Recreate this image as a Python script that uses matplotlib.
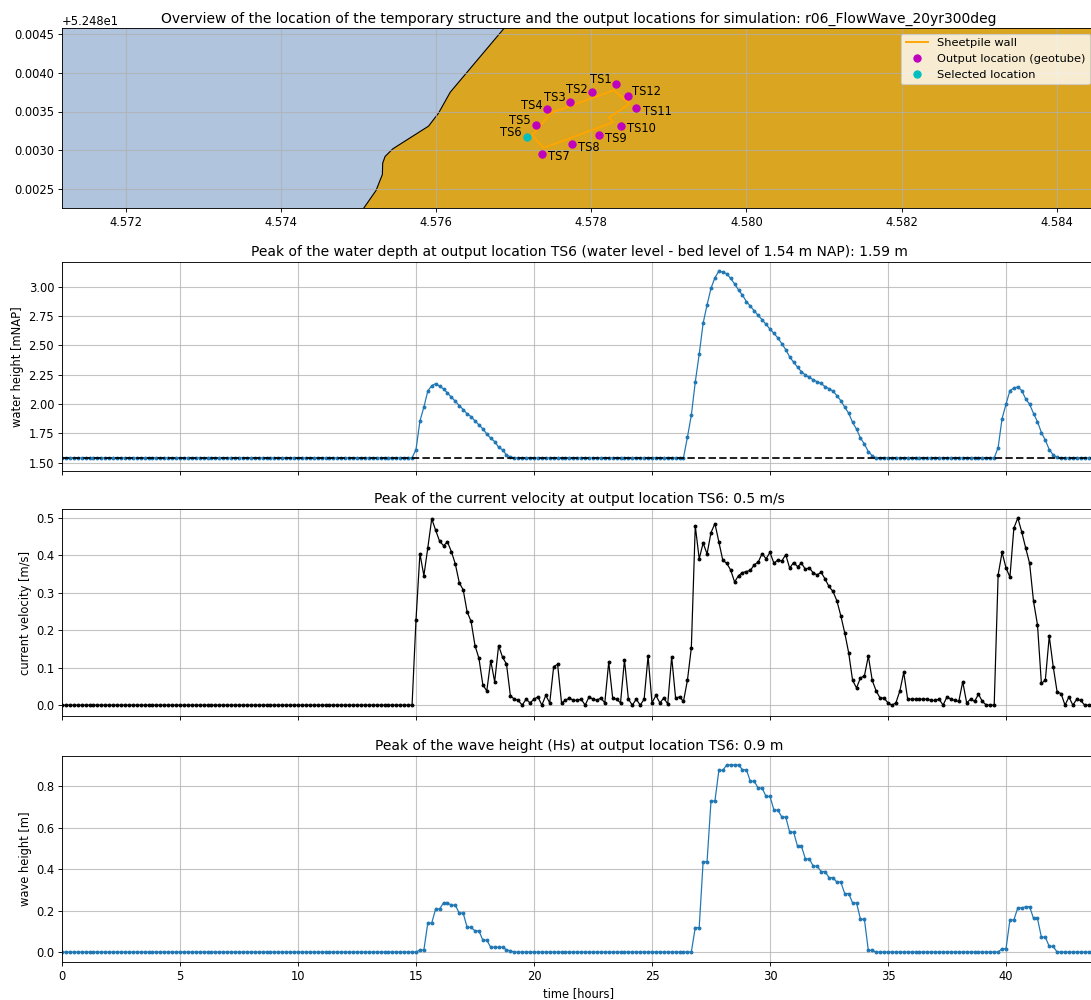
import numpy as np
import matplotlib
matplotlib.use("Agg")
import matplotlib.pyplot as plt
from matplotlib.patches import Polygon

W, H, DPI = 1091, 1000, 80
LAT0 = 52.48
BED = 1.54
DT = 1 / 6

plt.rcParams['font.size'] = 10.4
plt.rcParams['axes.titlesize'] = 12.5
plt.rcParams['axes.labelsize'] = 10.4
plt.rcParams['xtick.labelsize'] = 10.4
plt.rcParams['ytick.labelsize'] = 10.4
plt.rcParams['legend.fontsize'] = 10.2

coast_lon = [4.575017, 4.575069, 4.575224, 4.575306, 4.575310, 4.575341, 4.57544, 4.575901, 4.57603, 4.576181, 4.576862, 4.576935]
coast_lat = [0.00218, 0.002258, 0.002481, 0.002687, 0.002834, 0.00292, 0.003018, 0.003311, 0.003479, 0.003749, 0.004558, 0.004644]
wall_lon = [4.577237, 4.577388, 4.578284, 4.578228, 4.578491, 4.578293, 4.577474, 4.577237]
wall_lat = [0.00319, 0.003031, 0.003362, 0.003423, 0.003599, 0.003775, 0.003479, 0.00319]
ts_names = ['TS1', 'TS2', 'TS3', 'TS4', 'TS5', 'TS6', 'TS7', 'TS8', 'TS9', 'TS10', 'TS11', 'TS12']
ts_lon = [4.578323, 4.578013, 4.577724, 4.577427, 4.577289, 4.577172, 4.577362, 4.577754, 4.578099, 4.578388, 4.578582, 4.578478]
ts_lat = [0.003857, 0.003754, 0.003629, 0.003526, 0.003332, 0.003169, 0.002958, 0.003079, 0.003199, 0.003315, 0.003543, 0.003706]
selected = 5

water_peak1 = [1.611, 1.855, 1.972, 2.11, 2.156, 2.173, 2.15, 2.128, 2.094, 2.057, 2.023, 1.986, 1.952, 1.915, 1.892,
               1.855, 1.821, 1.787, 1.744, 1.707, 1.679, 1.631, 1.608, 1.565, 1.548]
water_peak2 = [1.715, 1.904, 2.186, 2.424, 2.689, 2.845, 2.986, 3.076, 3.133, 3.124, 3.11, 3.07, 3.023, 2.972, 2.927,
               2.873, 2.833, 2.794, 2.754, 2.718, 2.678, 2.638, 2.602, 2.562, 2.514, 2.463, 2.401, 2.356, 2.314, 2.274,
               2.246, 2.226, 2.206, 2.189, 2.175, 2.147, 2.13, 2.11, 2.071, 2.028, 1.972, 1.921, 1.842, 1.785, 1.709,
               1.658, 1.593, 1.559]
water_peak3 = [1.628, 1.875, 1.997, 2.114, 2.136, 2.145, 2.114, 2.043, 1.997, 1.918, 1.849, 1.756, 1.69, 1.611, 1.565, 1.545]
water = ([BED] * 90 + water_peak1 + [BED] * 44 + water_peak2 + [BED] * 31 + water_peak3 + [BED] * 9)

velocity_a = [0.228, 0.405, 0.346, 0.42, 0.498, 0.467, 0.438, 0.426, 0.436, 0.41, 0.377, 0.327, 0.308, 0.249, 0.224,
              0.159, 0.125, 0.054, 0.038, 0.119, 0.0625, 0.159, 0.128, 0.11, 0.025, 0.016, 0.0125, 0.0, 0.016, 0.006,
              0.016, 0.022, 0.0, 0.026, 0.006, 0.103, 0.109, 0.006, 0.013, 0.019, 0.013, 0.013, 0.016, 0.0, 0.022,
              0.016, 0.013, 0.019, 0.006, 0.115, 0.019, 0.016, 0.006, 0.121, 0.016, 0.0, 0.016, 0.0, 0.016, 0.131,
              0.006, 0.026, 0.006, 0.019, 0.003, 0.129, 0.019, 0.022, 0.01, 0.066, 0.153, 0.479]
velocity_b = [0.391, 0.433, 0.404, 0.461, 0.485, 0.436, 0.387, 0.379, 0.361, 0.329, 0.346, 0.354, 0.357, 0.36, 0.375,
              0.382, 0.405, 0.391, 0.408, 0.379, 0.388, 0.385, 0.402, 0.366, 0.381, 0.37, 0.379, 0.363, 0.367, 0.353,
              0.348, 0.355, 0.337, 0.317, 0.304, 0.279, 0.239, 0.193, 0.14, 0.066, 0.046, 0.073, 0.078, 0.131, 0.066,
              0.0375, 0.019, 0.019, 0.006, 0.0, 0.006, 0.0375, 0.0875, 0.016, 0.016, 0.016, 0.016, 0.016, 0.016, 0.0125,
              0.0125, 0.016, 0.0, 0.022, 0.016, 0.0125, 0.01, 0.0625, 0.006, 0.016, 0.01, 0.029, 0.01, 0.0, 0.0,
              0.0, 0.348, 0.408, 0.367, 0.342, 0.473, 0.5, 0.463, 0.42, 0.379, 0.277, 0.215, 0.058, 0.067, 0.184,
              0.103, 0.035, 0.031, 0.0, 0.022, 0.0, 0.016, 0.0125, 0.0, 0.0, 0.0]
velocity = [0.0] * 90 + velocity_a + velocity_b

wave_peak1 = [0.0, 0.01, 0.01, 0.14, 0.14, 0.208, 0.208, 0.237, 0.237, 0.226, 0.226, 0.187, 0.187, 0.119, 0.119,
              0.102, 0.102, 0.057, 0.057, 0.023, 0.023, 0.023, 0.023, 0.011, 0.006]
wave_peak2 = [0.118, 0.118, 0.436, 0.436, 0.728, 0.728, 0.876, 0.876, 0.902, 0.902, 0.902, 0.902, 0.879, 0.879, 0.823,
              0.823, 0.79, 0.79, 0.75, 0.75, 0.684, 0.684, 0.651, 0.651, 0.578, 0.578, 0.51, 0.51, 0.449, 0.449,
              0.414, 0.414, 0.388, 0.388, 0.359, 0.359, 0.337, 0.337, 0.282, 0.282, 0.237, 0.237, 0.158, 0.158, 0.008, 0.008]
wave_peak3 = [0.016, 0.016, 0.155, 0.155, 0.213, 0.213, 0.218, 0.219, 0.162, 0.162, 0.072, 0.072, 0.027, 0.027]
wave = [0.0] * 90 + wave_peak1 + [0.0] * 46 + wave_peak2 + [0.0] * 32 + wave_peak3 + [0.0] * 10

def axpos(left, top, right, bottom):
    return [left / W, 1 - bottom / H, (right - left) / W, (bottom - top) / H]

LEFT, RIGHT = 62, 1096
GRID = dict(color='#b0b0b0', alpha=0.75, lw=1.0)
fig = plt.figure(figsize=(W / DPI, H / DPI), dpi=DPI)

# ---- overview map
ax0 = fig.add_axes(axpos(LEFT, 28, RIGHT, 208))
ax0.set_facecolor('lightsteelblue')
lon_min = 4.572 - 64 / 77550
lon_max = lon_min + (RIGHT - LEFT) / 77550
land = list(zip(coast_lon, np.array(coast_lat) + LAT0)) + [(4.59, LAT0 + 0.0047), (4.59, LAT0 + 0.0021)]
ax0.add_patch(Polygon(land, closed=True, facecolor='goldenrod', edgecolor='black', lw=1.0))
ax0.plot(wall_lon, np.array(wall_lat) + LAT0, color='orange', lw=1.7, label='Sheetpile wall')
sel_lon = [ts_lon[selected]]
sel_lat = [ts_lat[selected] + LAT0]
others = [i for i in range(len(ts_names)) if i != selected]
ax0.plot([ts_lon[i] for i in others], [ts_lat[i] + LAT0 for i in others], 'o', color='m', ms=6.5,
         ls='none', label='Output location (geotube)')
ax0.plot(sel_lon, sel_lat, 'o', color='c', ms=6.5, ls='none', label='Selected location')
offsets = [(-4, 4, 'right'), (-4, 2.5, 'right'), (-4, 4, 'right'), (-4, 3.5, 'right'), (-5, 4, 'right'), (-5, 4, 'right'),
           (6, -3, 'left'), (5, -3, 'left'), (5, -3, 'left'), (5, -2.5, 'left'), (6, -3, 'left'), (3.5, 3.5, 'left')]
for name, x, y, (dx, dy, ha) in zip(ts_names, ts_lon, ts_lat, offsets):
    ax0.annotate(name, (x, y + LAT0), xytext=(dx, dy), textcoords='offset points', ha=ha, va='center')
ax0.set_xlim(lon_min, lon_max)
ax0.set_ylim(LAT0 + 0.0025 - 19 / 77500, LAT0 + 0.0045 + 6 / 77500)
ax0.grid(True, **GRID)
ax0.legend(loc='upper right')
ax0.set_title('Overview of the location of the temporary structure and the output locations '
              'for simulation: r06_FlowWave_20yr300deg', pad=5)

# ---- time series
t = np.arange(len(water)) * DT
xmax = (RIGHT - LEFT) / 23.6

ax1 = fig.add_axes(axpos(LEFT, 262, RIGHT, 471))
ax1.plot(t, water, '.-', color='tab:blue', lw=1.1, ms=5)
ax1.plot([0, xmax], [BED, BED], '--', color='black', lw=1.8, alpha=0.85)
ax1.set_ylim(1.428, 3.21)
ax1.set_yticks([1.5, 1.75, 2.0, 2.25, 2.5, 2.75, 3.0])
ax1.set_yticklabels(['1.50', '1.75', '2.00', '2.25', '2.50', '2.75', '3.00'])
ax1.set_ylabel('water height [mNAP]')
ax1.set_title('Peak of the water depth at output location TS6 (water level - bed level of 1.54 m NAP): 1.59 m', pad=5)

ax2 = fig.add_axes(axpos(LEFT, 509, RIGHT, 716))
ax2.plot(t[:len(velocity)], velocity, '.-', color='black', lw=1.1, ms=5)
ax2.set_ylim(-0.029, 0.524)
ax2.set_ylabel('current velocity [m/s]')
ax2.set_title('Peak of the current velocity at output location TS6: 0.5 m/s', pad=5)

ax3 = fig.add_axes(axpos(LEFT, 756, RIGHT, 962))
ax3.plot(t, wave, '.-', color='tab:blue', lw=1.1, ms=5)
ax3.set_ylim(-0.048, 0.945)
ax3.set_yticks([0.0, 0.2, 0.4, 0.6, 0.8])
ax3.set_ylabel('wave height [m]')
ax3.set_xlabel('time [hours]')
ax3.set_title('Peak of the wave height (Hs) at output location TS6: 0.9 m', pad=5)

for ax in (ax1, ax2, ax3):
    ax.set_xlim(0, xmax)
    ax.set_xticks(np.arange(0, 45, 5))
    ax.grid(True, **GRID)
ax1.tick_params(labelbottom=False)
ax2.tick_params(labelbottom=False)

fig.savefig('out.png', dpi=DPI)
